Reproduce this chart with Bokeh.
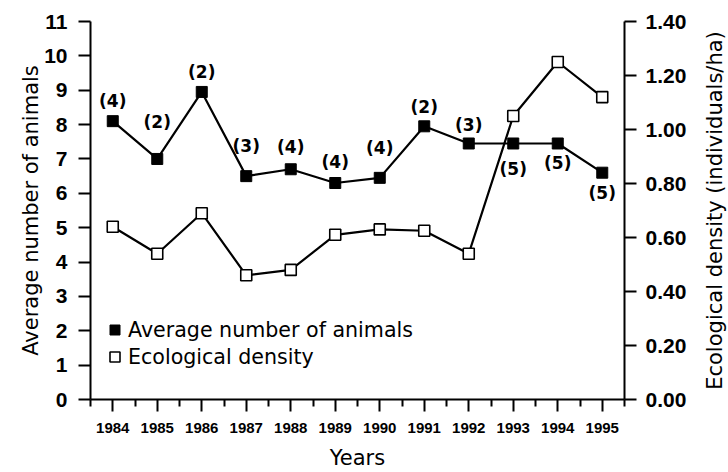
import math
from bokeh.plotting import figure
from bokeh.layouts import row
from bokeh.models import (Range1d, LinearAxis, FixedTicker, NumeralTickFormatter,
                          ColumnDataSource, Legend, LegendItem)
from bokeh.core.properties import value
from bokeh.embed import file_html
from bokeh.resources import INLINE

# ---------------- data ----------------
years = [1984, 1985, 1986, 1987, 1988, 1989, 1990, 1991, 1992, 1993, 1994, 1995]
avg_animals = [8.1, 7.0, 8.95, 6.5, 6.7, 6.3, 6.45, 7.95, 7.45, 7.45, 7.45, 6.6]
eco_density = [0.64, 0.54, 0.69, 0.46, 0.48, 0.61, 0.63, 0.625, 0.54, 1.05, 1.25, 1.12]
n_counts = ["(4)", "(2)", "(2)", "(3)", "(4)", "(4)", "(4)", "(2)", "(3)", "(5)", "(5)", "(5)"]
left_ticks = [0, 1, 2, 3, 4, 5, 6, 7, 8, 9, 10, 11]
right_ticks = [0.0, 0.2, 0.4, 0.6, 0.8, 1.0, 1.2, 1.4]
minor_year_ticks = [1983.5, 1984.5, 1985.5, 1986.5, 1987.5, 1988.5, 1989.5,
                    1990.5, 1991.5, 1992.5, 1993.5, 1994.5, 1995.5]

# label pixel offsets (style)
label_dy = [-20, -37, -20, -30, -22, -21, -30, -19, -18, 26, 20, 20]

TITLE_FONT = "DejaVu Sans"
TICK_FONT = "Liberation Sans"
RIGHT_TITLE = "Ecological density (individuals/ha)"

p = figure(width=690, height=472,
           x_range=Range1d(1983.5, 1995.5), y_range=Range1d(0, 11),
           output_backend="svg", toolbar_location=None,
           min_border_left=90, min_border_right=66,
           min_border_top=21, min_border_bottom=70)
p.outline_line_color = None
p.xgrid.visible = False
p.ygrid.visible = False
p.background_fill_color = "white"
p.border_fill_color = "white"

p.extra_y_ranges = {"dens": Range1d(0, 1.40)}

def style_axis(ax, size):
    ax.axis_line_color = "black"
    ax.axis_line_width = 2
    ax.major_tick_line_color = "black"
    ax.major_tick_line_width = 2
    ax.major_tick_in = 0
    ax.major_tick_out = 12
    ax.minor_tick_line_color = None
    ax.major_label_text_font = TICK_FONT
    ax.major_label_text_font_style = "bold"
    ax.major_label_text_font_size = size
    ax.major_label_text_color = "black"
    ax.axis_label_text_font = TITLE_FONT
    ax.axis_label_text_font_style = "normal"
    ax.axis_label_text_font_size = "21px"
    ax.axis_label_text_color = "black"

xa = p.xaxis[0]
style_axis(xa, "15px")
xa.ticker = FixedTicker(ticks=years, minor_ticks=minor_year_ticks)
xa.minor_tick_line_color = "black"
xa.minor_tick_line_width = 2
xa.minor_tick_in = 0
xa.minor_tick_out = 7
xa.major_label_standoff = 11
xa.axis_label = "Years"
xa.axis_label_standoff = 10

ya = p.yaxis[0]
style_axis(ya, "21px")
ya.ticker = FixedTicker(ticks=left_ticks)
ya.major_label_standoff = 11
ya.axis_label = "Average number of animals"
ya.axis_label_standoff = -2

ra = LinearAxis(y_range_name="dens")
style_axis(ra, "21px")
ra.ticker = FixedTicker(ticks=right_ticks)
ra.formatter = NumeralTickFormatter(format="0.00")
ra.major_label_standoff = 9
p.add_layout(ra, "right")

src = ColumnDataSource(dict(x=years, a=avg_animals, d=eco_density, t=n_counts, dy=label_dy))

p.line("x", "d", source=src, y_range_name="dens", line_color="black", line_width=2.2)
p.line("x", "a", source=src, line_color="black", line_width=2.2)
r_open = p.scatter("x", "d", source=src, y_range_name="dens", marker="square", size=11,
                   fill_color="white", line_color="black", line_width=1.6)
r_fill = p.scatter("x", "a", source=src, marker="square", size=11,
                   fill_color="black", line_color="black")

p.text("x", "a", text="t", source=src, y_offset="dy",
       text_align="center", text_baseline="middle",
       text_font=value("DejaVu Sans"), text_font_style="bold",
       text_font_size="17px", text_color="black")

legend = Legend(items=[LegendItem(label="Average number of animals", renderers=[r_fill]),
                       LegendItem(label="Ecological density", renderers=[r_open])],
                location=(12, 30), border_line_color=None, background_fill_alpha=0,
                padding=0, margin=0, spacing=2, glyph_width=25, glyph_height=25,
                label_height=25, label_standoff=1,
                label_text_font=TITLE_FONT, label_text_font_size="20.6px",
                label_text_color="black")
p.add_layout(legend)

# narrow companion figure that carries the right-hand title, reading bottom-to-top
p2 = figure(width=38, height=472, x_range=Range1d(0, 1), y_range=Range1d(0, 1.40),
            output_backend="svg", toolbar_location=None,
            min_border_left=36, min_border_right=0,
            min_border_top=21, min_border_bottom=70)
p2.outline_line_color = None
p2.xgrid.visible = False
p2.ygrid.visible = False
p2.xaxis.visible = False
p2.background_fill_color = "white"
p2.border_fill_color = "white"
ta = p2.yaxis[0]
ta.ticker = FixedTicker(ticks=[])
ta.axis_line_color = None
ta.major_tick_line_color = None
ta.minor_tick_line_color = None
ta.major_tick_out = 0
ta.major_label_standoff = 0
ta.axis_label = RIGHT_TITLE
ta.axis_label_standoff = 0
ta.axis_label_text_font = TITLE_FONT
ta.axis_label_text_font_style = "normal"
ta.axis_label_text_font_size = "21px"
ta.axis_label_text_color = "black"

layout = row(p, p2, spacing=0)
open("out.html", "w").write(file_html(layout, INLINE))
